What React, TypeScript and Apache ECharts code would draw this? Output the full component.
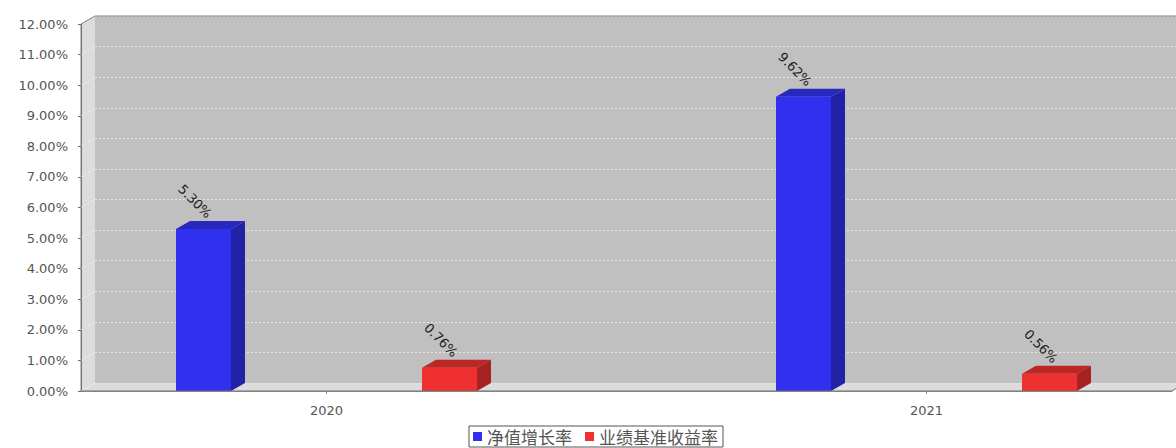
import React, { useEffect, useRef } from "react";
import * as echarts from "echarts";

const categories = ["2020", "2021"];
const seriesNames = ["净值增长率", "业绩基准收益率"];
const navGrowth = [5.3, 9.62];
const benchmark = [0.76, 0.56];
const yTicks = [0, 1, 2, 3, 4, 5, 6, 7, 8, 9, 10, 11];

const DX = 14;
const DY = 8;

function barRenderer(offsetRatio: number, front: string, topC: string, sideC: string) {
  return (params: any, api: any) => {
    const idx = api.value(0);
    const v = api.value(1);
    const top = api.coord([idx, v]);
    const base = api.coord([idx, 0]);
    const band = api.size([1, 0])[0];
    const cx = top[0] + offsetRatio * band;
    const w = band * (55 / 600);
    const x0 = cx - w / 2;
    const x1 = cx + w / 2;
    const y0 = top[1];
    const yb = base[1];
    return {
      type: "group",
      children: [
        { type: "rect", shape: { x: x0, y: y0, width: w, height: yb - y0 }, style: { fill: front } },
        {
          type: "polygon",
          shape: { points: [[x0, y0], [x0 + DX, y0 - DY], [x1 + DX, y0 - DY], [x1, y0]] },
          style: { fill: topC },
        },
        {
          type: "polygon",
          shape: { points: [[x1, y0], [x1 + DX, y0 - DY], [x1 + DX, yb - DY], [x1, yb]] },
          style: { fill: sideC },
        },
        {
          type: "text",
          x: cx + 6,
          y: y0 - DY - 5,
          rotation: -Math.PI / 4,
          style: {
            text: v.toFixed(2) + "%",
            x: 0,
            y: 0,
            align: "right",
            verticalAlign: "middle",
            fill: "#222",
            fontSize: 13,
            fontFamily: "DejaVu Sans",
          },
        },
      ],
    };
  };
}

export default function App() {
  const ref = useRef<HTMLDivElement>(null);
  useEffect(() => {
    document.body.style.margin = "0";
    const chart = echarts.init(ref.current!, undefined, { renderer: "svg" });
    const option: any = {
      animation: false,
      backgroundColor: "#fff",
      grid: [
        { left: 81, top: 24, width: 1091, height: 367, show: false, outerBoundsMode: "none", containLabel: false },
        {
          left: 95,
          top: 16,
          width: 1090,
          height: 367,
          show: true,
          backgroundColor: "#C0C0C0",
          borderWidth: 0,
          outerBoundsMode: "none",
          containLabel: false,
        },
        { left: 26.5, top: 24, width: 1200, height: 367, show: false, outerBoundsMode: "none", containLabel: false },
      ],
      xAxis: [
        {
          gridIndex: 0,
          type: "value",
          min: 0,
          max: 1,
          offset: 5,
          axisLine: { show: true, lineStyle: { color: "#999", width: 1 } },
          axisTick: { show: false },
          axisLabel: { show: false },
          splitLine: { show: false },
        },
        {
          gridIndex: 1,
          type: "value",
          min: 0,
          max: 1,
          show: false,
        },
        {
          gridIndex: 2,
          type: "category",
          data: categories,
          offset: 5,
          axisLine: { show: false },
          axisTick: { show: true, alignWithLabel: true, length: 3, lineStyle: { color: "#888" } },
          axisLabel: { margin: 8, fontSize: 13, color: "#555", fontFamily: "DejaVu Sans" },
          splitLine: { show: false },
        },
      ],
      yAxis: [
        {
          gridIndex: 0,
          type: "value",
          min: 0,
          max: 12,
          interval: 1,
          offset: 6,
          axisLine: { show: true, lineStyle: { color: "#666" } },
          axisTick: { show: true, length: 3, lineStyle: { color: "#666" } },
          axisLabel: {
            margin: 7,
            fontSize: 13,
            color: "#555",
            fontFamily: "DejaVu Sans",
            formatter: (v: number) => v.toFixed(2) + "%",
          },
          splitLine: { show: false },
        },
        {
          gridIndex: 1,
          type: "value",
          min: 0,
          max: 12,
          interval: 1,
          axisLine: { show: false },
          axisTick: { show: false },
          axisLabel: { show: false },
          splitLine: { show: true, lineStyle: { color: "#E6E6E6", type: [2, 2], width: 1 } },
        },
        {
          gridIndex: 2,
          type: "value",
          min: 0,
          max: 12,
          show: false,
        },
      ],
      legend: {
        left: 469,
        top: 426,
        padding: [2, 5, 2, 4],
        borderColor: "#555",
        borderWidth: 1,
        itemWidth: 9,
        itemHeight: 9,
        itemGap: 13,
        icon: "rect",
        textStyle: { fontSize: 17, lineHeight: 17, color: "#555", fontFamily: "Noto Sans CJK SC" },
        data: seriesNames,
      },
      graphic: [
        {
          type: "polygon",
          z: 0,
          shape: { points: [[81, 24], [95, 16], [95, 383], [81, 391]] },
          style: { fill: "#DCDCDC" },
        },
        {
          type: "polygon",
          z: 0,
          shape: { points: [[81, 391], [95, 383], [1185, 383], [1172, 391]] },
          style: { fill: "#DCDCDC" },
        },
        {
          type: "polyline",
          z: 5,
          shape: { points: [[81, 391], [81, 24], [95, 16], [1185, 16]] },
          style: { stroke: "#808080", lineWidth: 1, fill: null },
        },
        {
          type: "polyline",
          z: 5,
          shape: { points: [[81, 391], [1172, 391], [1180, 386]] },
          style: { stroke: "#707070", lineWidth: 1, fill: null },
        },
      ],
      series: [
        {
          type: "custom",
          name: "wallGrid",
          xAxisIndex: 0,
          yAxisIndex: 0,
          silent: true,
          data: yTicks.map((v) => [0, v]),
          renderItem: (params: any, api: any) => {
            const p = api.coord([0, api.value(1)]);
            return {
              type: "line",
              shape: { x1: p[0], y1: p[1], x2: p[0] + DX, y2: p[1] - DY },
              style: { stroke: "#F0F0F0", lineWidth: 1, lineDash: [2, 2] },
            };
          },
        },
        {
          type: "custom",
          name: seriesNames[0],
          xAxisIndex: 2,
          yAxisIndex: 2,
          itemStyle: { color: "#3030EE" },
          data: categories.map((c, i) => [i, navGrowth[i]]),
          renderItem: barRenderer(-123 / 600, "#3030EE", "#2828BE", "#2222A6"),
          z: 3,
        },
        {
          type: "custom",
          name: seriesNames[1],
          xAxisIndex: 2,
          yAxisIndex: 2,
          itemStyle: { color: "#EE3030" },
          data: categories.map((c, i) => [i, benchmark[i]]),
          renderItem: barRenderer(123 / 600, "#EE3030", "#BE2626", "#A82222"),
          z: 3,
        },
      ],
    };
    chart.setOption(option);
    return () => chart.dispose();
  }, []);
  return <div ref={ref} style={{ width: 1176, height: 448 }} />;
}
